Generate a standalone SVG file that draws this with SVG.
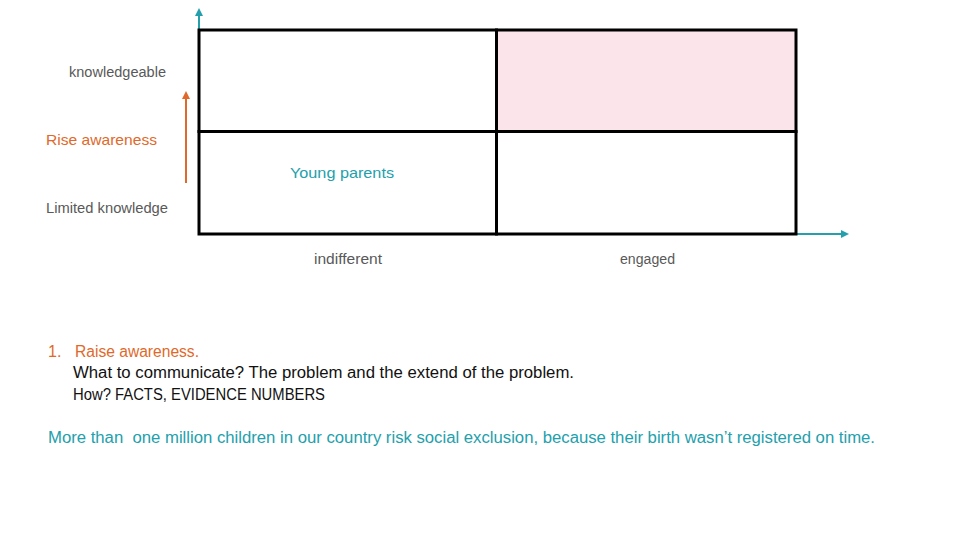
<svg xmlns="http://www.w3.org/2000/svg" width="960" height="540" viewBox="0 0 960 540">
<style>
text{font-family:"Liberation Sans","DejaVu Sans",sans-serif;}
.g{fill:#595959;font-size:14px;}
.o{fill:#E0692A;font-size:15px;}
.t{fill:#23A0AC;}
.k{fill:#111111;font-size:16px;}
.cell{stroke:#000;stroke-width:3;}
</style>
<defs>
<marker id="at" markerWidth="8" markerHeight="8" refX="4" refY="4" orient="auto" markerUnits="userSpaceOnUse">
<path d="M0,0 L8,4 L0,8 Z" fill="#23A0AC"/>
</marker>
<marker id="ao" markerWidth="8" markerHeight="8" refX="4" refY="4" orient="auto" markerUnits="userSpaceOnUse">
<path d="M0,0 L8,4 L0,8 Z" fill="#E0692A"/>
</marker>
</defs>
<g id="connectors">
<line x1="199" y1="234" x2="199" y2="12" stroke="#23A0AC" stroke-width="2" marker-end="url(#at)"/>
<line x1="199" y1="234" x2="845" y2="234" stroke="#23A0AC" stroke-width="2" marker-end="url(#at)"/>
<line x1="186" y1="183" x2="186" y2="95" stroke="#E0692A" stroke-width="2" marker-end="url(#ao)"/>
</g>
<g id="cell-tl"><rect class="cell" x="199" y="30" width="297.5" height="101.5" fill="#fff"/></g>
<g id="cell-tr"><rect class="cell" x="496.5" y="30" width="299.5" height="101.5" fill="#FBE5EA"/></g>
<g id="cell-bl"><rect class="cell" x="199" y="131.5" width="297.5" height="102.5" fill="#fff"/>
<text class="t" x="342" y="178" font-size="15" text-anchor="middle" textLength="104" lengthAdjust="spacingAndGlyphs">Young parents</text></g>
<g id="cell-br"><rect class="cell" x="496.5" y="131.5" width="299.5" height="102.5" fill="#fff"/></g>
<g id="labels">
<text class="g" x="69" y="77" textLength="97" lengthAdjust="spacingAndGlyphs">knowledgeable</text>
<text class="o" x="46" y="145" textLength="111" lengthAdjust="spacingAndGlyphs">Rise awareness</text>
<text class="g" x="46" y="213" textLength="122" lengthAdjust="spacingAndGlyphs">Limited knowledge</text>
<text class="g" x="314" y="264" textLength="68" lengthAdjust="spacingAndGlyphs">indifferent</text>
<text class="g" x="620" y="264" textLength="55" lengthAdjust="spacingAndGlyphs">engaged</text>
</g>
<g id="notes">
<text class="o" x="48" y="357" style="font-size:16px">1.</text>
<text class="o" x="75" y="357" style="font-size:16px" textLength="124" lengthAdjust="spacingAndGlyphs">Raise awareness.</text>
<text class="k" x="73" y="378" textLength="501" lengthAdjust="spacingAndGlyphs">What to communicate? The problem and the extend of the problem.</text>
<text class="k" x="73" y="400" textLength="252" lengthAdjust="spacingAndGlyphs">How? FACTS, EVIDENCE NUMBERS</text>
<text class="t" x="48" y="443" font-size="16" textLength="827" lengthAdjust="spacingAndGlyphs" xml:space="preserve">More than  one million children in our country risk social exclusion, because their birth wasn’t registered on time.</text>
</g>
</svg>
